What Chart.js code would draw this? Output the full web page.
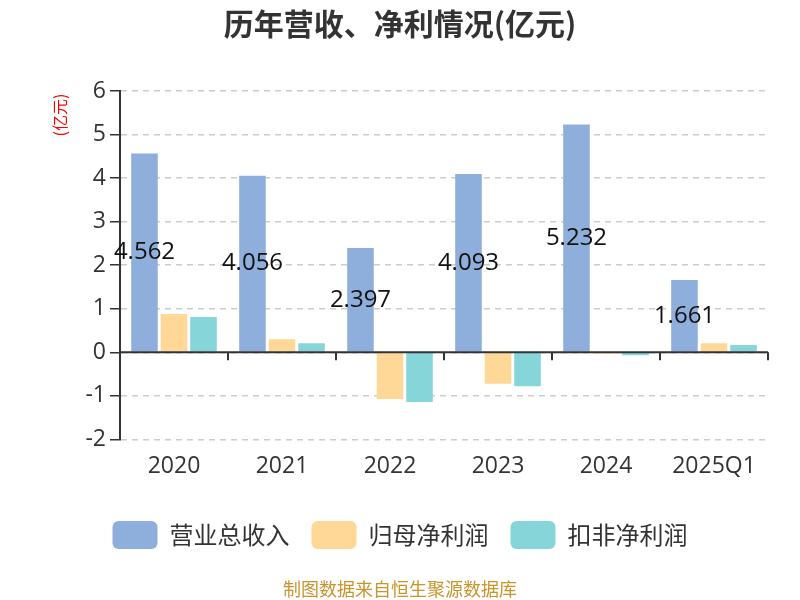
<!DOCTYPE html>
<html>
<head>
<meta charset="utf-8">
<script src="https://cdn.jsdelivr.net/npm/chart.js@4/dist/chart.umd.min.js"></script>
<style>
  html, body { margin: 0; padding: 0; background: #fff; }
  #wrap { width: 800px; height: 600px; }
</style>
</head>
<body>
<div id="wrap"><canvas id="c"></canvas></div>
<script>
const years = ['2020', '2021', '2022', '2023', '2024', '2025Q1'];
const revenue = [4.562, 4.056, 2.397, 4.093, 5.232, 1.661];
const netProfit = [0.88, 0.30, -1.07, -0.72, -0.03, 0.21];
const deductedProfit = [0.81, 0.21, -1.14, -0.78, -0.07, 0.17];
const yTicks = [-2, -1, 0, 1, 2, 3, 4, 5, 6];

const FONT = '"Open Sans", "Noto Sans CJK SC", sans-serif';
const CJK = '"Noto Sans CJK SC", sans-serif';

// zero line, x ticks, value labels, unit label and footer
const extras = {
  id: 'extras',
  afterDatasetsDraw(chart) {
    const { ctx, chartArea, scales } = chart;
    const y0 = scales.y.getPixelForValue(0);
    const step = (chartArea.right - chartArea.left) / years.length;
    ctx.save();
    ctx.strokeStyle = '#333';
    ctx.lineWidth = 2;
    ctx.beginPath();
    ctx.moveTo(chartArea.left, y0);
    ctx.lineTo(chartArea.right, y0);
    for (let i = 1; i <= years.length; i++) {
      const x = Math.round(chartArea.left + step * i);
      ctx.moveTo(x, y0);
      ctx.lineTo(x, y0 + 8);
    }
    ctx.stroke();

    // revenue labels in the middle of the bars
    const meta = chart.getDatasetMeta(0);
    ctx.fillStyle = '#111';
    ctx.font = '24px ' + FONT;
    ctx.textAlign = 'center';
    ctx.textBaseline = 'middle';
    meta.data.forEach((bar, i) => {
      ctx.fillText(revenue[i].toFixed(3), bar.x, (bar.y + bar.base) / 2);
    });

    // unit label
    ctx.save();
    ctx.translate(60, 115);
    ctx.rotate(-Math.PI / 2);
    ctx.fillStyle = '#ff0000';
    ctx.font = '16px ' + CJK;
    ctx.fillText('(亿元)', 0, 0);
    ctx.restore();

    // footer
    ctx.fillStyle = '#c8952c';
    ctx.font = '18px ' + CJK;
    ctx.fillText('制图数据来自恒生聚源数据库', 400, 589);
    ctx.restore();
  }
};

new Chart(document.getElementById('c'), {
  type: 'bar',
  data: {
    labels: years,
    datasets: [
      { label: '营业总收入', data: revenue, backgroundColor: '#8eaedb' },
      { label: '归母净利润', data: netProfit, backgroundColor: '#ffd898' },
      { label: '扣非净利润', data: deductedProfit, backgroundColor: '#86d5d8' }
    ]
  },
  options: {
    responsive: true,
    maintainAspectRatio: false,
    animation: false,
    layout: { padding: { left: 0, right: 0, top: 0, bottom: 41 } },
    datasets: { bar: { categoryPercentage: 0.82, barPercentage: 0.9 } },
    scales: {
      x: {
        afterFit(scale) { scale.height += 14; },
        grid: { display: false },
        border: { display: false },
        ticks: { color: '#333', font: { size: 23, family: FONT }, padding: 5 }
      },
      y: {
        min: -2,
        max: 6,
        afterBuildTicks(scale) { scale.ticks = yTicks.map(v => ({ value: v })); },
        afterFit(scale) { scale.width = 120; },
        grid: { color: '#ccc', tickColor: '#333', tickLength: 10, lineWidth: 1.5 },
        border: { color: '#333', width: 2, dash: [6, 5] },
        ticks: { color: '#333', font: { size: 23, family: FONT }, padding: 4 }
      },
      // empty right-hand gutter so title and legend stay centred on the page
      gutter: {
        position: 'right',
        display: true,
        afterFit(scale) { scale.width = 32; },
        grid: { display: false },
        border: { display: false },
        ticks: { display: false }
      }
    },
    plugins: {
      title: {
        display: true,
        text: '历年营收、净利情况(亿元)',
        color: '#333',
        font: { size: 30, weight: 'bold', family: CJK },
        padding: { top: 6, bottom: 49 }
      },
      legend: {
        position: 'bottom',
        labels: {
          color: '#333',
          font: { size: 24, family: CJK },
          boxWidth: 45,
          boxHeight: 28,
          useBorderRadius: true,
          borderRadius: 6,
          padding: 22
        }
      },
      tooltip: { enabled: false }
    }
  },
  plugins: [extras]
});
</script>
</body>
</html>
